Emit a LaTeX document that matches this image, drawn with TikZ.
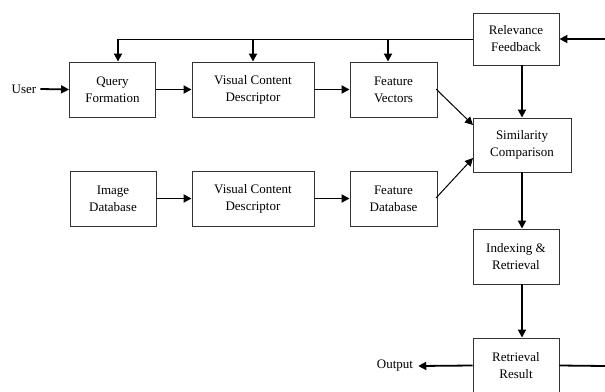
\documentclass[tikz,border=0pt]{standalone}
\usepackage{fontspec}
\setmainfont{Liberation Serif}
\usetikzlibrary{arrows.meta}
\begin{document}
\begin{tikzpicture}[x=1pt,y=-1pt,
  blk/.style={draw=black!80,line width=0.9pt,minimum height=55pt,align=center,font=\fontsize{13}{17}\selectfont,inner sep=0pt},
  thk/.style={line width=1.8pt,-{Triangle[length=8pt,width=8pt]}},
  thn/.style={line width=1pt,-{Triangle[length=8pt,width=8pt]}},
  lbl/.style={font=\fontsize{13}{17}\selectfont,inner sep=0pt}]
\useasboundingbox (0,0) rectangle (605,391);
\fill[white] (0,0) rectangle (605,391);
\clip (0,0) rectangle (605,391);
\node[blk,minimum width=86pt] (qf) at (112.5,89.5) {Query\\Formation};
\node[blk,minimum width=122pt] (vcd1) at (253,89.5) {Visual Content\\Descriptor};
\node[blk,minimum width=87pt] (fv) at (393.5,89.5) {Feature\\Vectors};
\node[blk,minimum width=86pt,minimum height=52pt] (rf) at (516,39) {Relevance\\Feedback};
\node[blk,minimum width=98pt,minimum height=54pt] (sc) at (522,145) {Similarity\\Comparison};
\node[blk,minimum width=86pt] (id) at (113,198.5) {Image\\Database};
\node[blk,minimum width=122pt] (vcd2) at (253,198.5) {Visual Content\\Descriptor};
\node[blk,minimum width=87pt] (fd) at (393.5,198.5) {Feature\\Database};
\node[blk,minimum width=86pt] (ir) at (516,256.5) {Indexing \&\\Retrieval};
\node[blk,minimum width=86pt] (rr) at (516,365.5) {Retrieval\\Result};
\node[lbl] (user) at (24,89) {User};
\node[lbl] (out) at (395,366) {Output};
\coordinate (re1) at (605,39);
\coordinate (re2) at (605,366);
\coordinate (t1) at (118,39);
\coordinate (t2) at (253,39);
\coordinate (t3) at (388,39);
\coordinate (vx) at (522,0);
\coordinate (fvo) at (436,89);
\coordinate (sci1) at (473,125);
\coordinate (fdo) at (436,198);
\coordinate (sci2) at (473,158);
% top feedback line
\draw[line width=1pt] (rf.west) -- (t1);
\draw[thk] (t1) -- (t1 |- qf.north);
\draw[thk] (t2) -- (t2 |- vcd1.north);
\draw[thk] (t3) -- (t3 |- fv.north);
\draw[thk] (re1) -- (rf.east);
\draw[line width=1.8pt] (rr.east) -- (re2);
\draw[thk] ([xshift=4pt]user.east) -- (qf.west);
\draw[thk] (qf) -- (vcd1);
\draw[thk] (vcd1) -- (fv);
\draw[thk] (id) -- (vcd2);
\draw[thk] (vcd2) -- (fd);
\draw[thk] (vx |- rf.south) -- (vx |- sc.north);
\draw[thk] (vx |- sc.south) -- (vx |- ir.north);
\draw[thk] (vx |- ir.south) -- (vx |- rr.north);
\draw[thk] (rr.west) -- ([xshift=5pt]out.east);
\draw[thn] (fvo) -- (sci1);
\draw[thn] (fdo) -- (sci2);
\end{tikzpicture}
\end{document}
